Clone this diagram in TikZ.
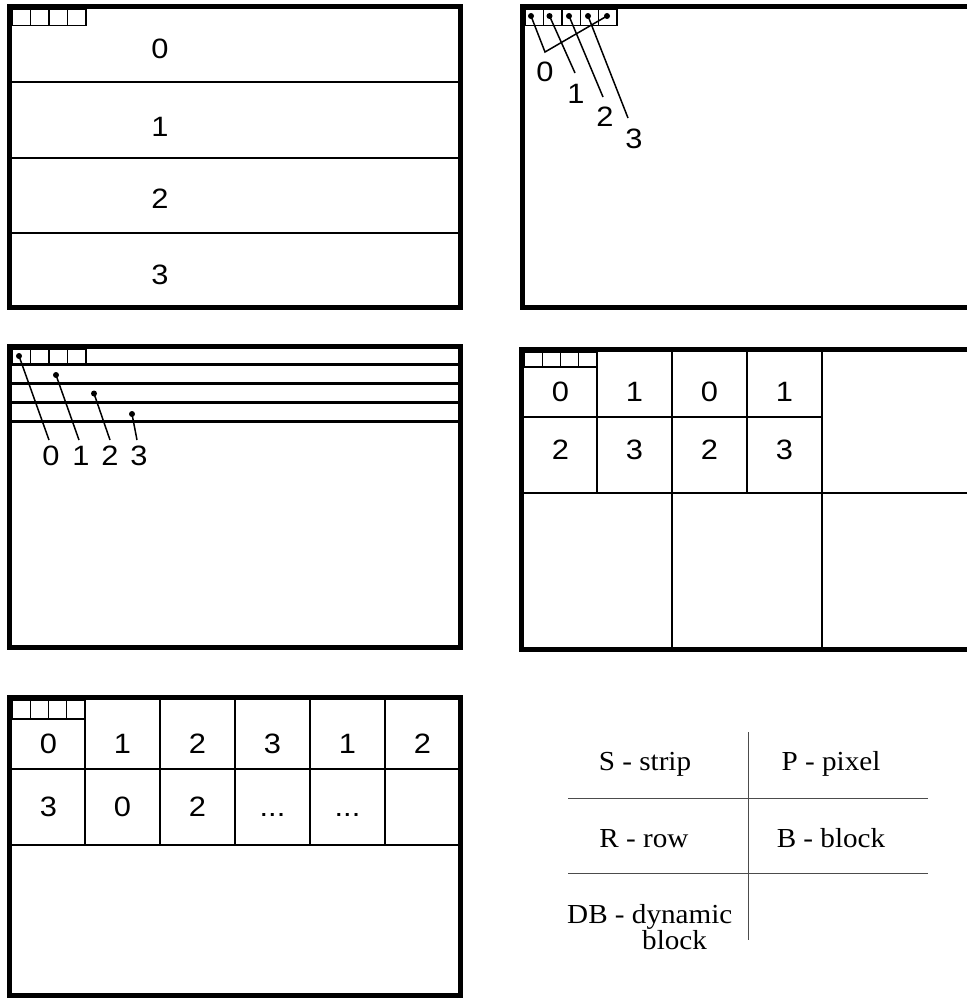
\documentclass[tikz,border=0pt]{standalone}
\usepackage{fontspec}
\setmainfont{Liberation Serif}
\newfontfamily\digitfont[FakeStretch=1.1]{Liberation Sans}
\newfontfamily\legfont[FakeStretch=1.06]{Liberation Serif}
\begin{document}
\begin{tikzpicture}[x=1pt,y=-1pt,
  frame/.style={line width=5pt},
  divline/.style={line width=2.2pt},
  hair/.style={line width=1.4pt},
  num/.style={font=\digitfont\fontsize{28}{30}\selectfont, inner sep=0pt},
  leg/.style={font=\legfont\fontsize{27.5}{28}\selectfont, inner sep=0pt},
  legline/.style={line width=1pt, draw=black!70},
  pdot/.style={circle, fill=black, inner sep=0pt, minimum size=6pt},
  lead/.style={line width=1.5pt}
]
\useasboundingbox (0,0) rectangle (967,998);

% ---------- Panel 1 (top-left): strips ----------
\foreach \i in {0,...,3} \draw[hair] ({12+18.5*\i},9) rectangle ++(18.5,16.5);
\draw[divline] (12,82) -- (458,82);
\draw[divline] (12,158) -- (458,158);
\draw[divline] (12,233) -- (458,233);
\draw[frame] (9.5,6.5) rectangle (460.5,307.5);
\node[num] (s0) at (160,49) {0};
\node[num] (s1) at (160,127) {1};
\node[num] (s2) at (160,199) {2};
\node[num] (s3) at (160,275) {3};

% ---------- Panel 2 (top-right): pixels ----------
\foreach \i in {0,...,4} \draw[hair] ({525+18.4*\i},9) rectangle ++(18.4,16.5);
\draw[frame] (967,6.5) -- (522.5,6.5) -- (522.5,307.5) -- (967,307.5);
\node[pdot] (p1) at (531,16) {};
\node[pdot] (p2) at (549.5,16) {};
\node[pdot] (p3) at (569,16) {};
\node[pdot] (p4) at (588,16) {};
\node[pdot] (p5) at (607,16) {};
\coordinate (pv) at (545,52);
\coordinate (pe1) at (575,73);
\coordinate (pe2) at (603,97);
\coordinate (pe3) at (628,118);
\draw[lead] (p1.center) -- (pv) -- (p5.center);
\draw[lead] (p2.center) -- (pe1);
\draw[lead] (p3.center) -- (pe2);
\draw[lead] (p4.center) -- (pe3);
\node[num] (pl0) at (545,72) {0};
\node[num] (pl1) at (576,94) {1};
\node[num] (pl2) at (605,117) {2};
\node[num] (pl3) at (634,139) {3};

% ---------- Panel 3 (middle-left): rows ----------
\foreach \i in {0,...,3} \draw[hair] ({12+18.5*\i},349) rectangle ++(18.5,15.5);
\foreach \y in {364.5,383.5,402.5,421.5} \draw[divline] (12,\y) -- (458,\y);
\draw[frame] (9.5,346.5) rectangle (460.5,647.5);
\node[pdot] (r0) at (19,356) {};
\node[pdot] (r1) at (56,375) {};
\node[pdot] (r2) at (94,393.5) {};
\node[pdot] (r3) at (132,414) {};
\coordinate (re0) at (49,440);
\coordinate (re1) at (79,440);
\coordinate (re2) at (110,440);
\coordinate (re3) at (137,440);
\draw[lead] (r0.center) -- (re0);
\draw[lead] (r1.center) -- (re1);
\draw[lead] (r2.center) -- (re2);
\draw[lead] (r3.center) -- (re3);
\node[num] (rl0) at (51,456) {0};
\node[num] (rl1) at (81,456) {1};
\node[num] (rl2) at (110,456) {2};
\node[num] (rl3) at (139,456) {3};

% ---------- Panel 4 (middle-right): blocks ----------
\foreach \i in {0,...,3} \draw[hair] ({524+18.25*\i},352) rectangle ++(18.25,15);
\draw[divline] (597,352) -- (597,493);
\draw[divline] (672,352) -- (672,647);
\draw[divline] (747,352) -- (747,493);
\draw[divline] (822,352) -- (822,647);
\draw[divline] (524,417) -- (822,417);
\draw[divline] (524,493) -- (967,493);
\draw[frame] (967,349.5) -- (521.5,349.5) -- (521.5,649.5) -- (967,649.5);
\node[num] (b00) at (560.5,392) {0};
\node[num] (b01) at (634.5,392) {1};
\node[num] (b02) at (709.5,392) {0};
\node[num] (b03) at (784.5,392) {1};
\node[num] (b10) at (560.5,450) {2};
\node[num] (b11) at (634.5,450) {3};
\node[num] (b12) at (709.5,450) {2};
\node[num] (b13) at (784.5,450) {3};

% ---------- Panel 5 (bottom-left): dynamic blocks ----------
\foreach \i in {0,...,3} \draw[hair] ({12+18.25*\i},700) rectangle ++(18.25,19);
\foreach \x in {85,160,235,310,385} \draw[divline] (\x,700) -- (\x,845);
\draw[divline] (12,769) -- (458,769);
\draw[divline] (12,845) -- (458,845);
\draw[frame] (9.5,697.5) rectangle (460.5,995.5);
\node[num] (d00) at (48.5,744) {0};
\node[num] (d01) at (122.5,744) {1};
\node[num] (d02) at (197.5,744) {2};
\node[num] (d03) at (272.5,744) {3};
\node[num] (d04) at (347.5,744) {1};
\node[num] (d05) at (422.5,744) {2};
\node[num] (d10) at (48.5,807) {3};
\node[num] (d11) at (122.5,807) {0};
\node[num] (d12) at (197.5,807) {2};
\node[num, anchor=base] (d13) at (272.5,816.5) {...};
\node[num, anchor=base] (d14) at (347.5,816.5) {...};

% ---------- Legend ----------
\draw[legline] (748,732) -- (748,940);
\draw[legline] (568,798) -- (928,798);
\draw[legline] (568,873) -- (928,873);
\node[leg, anchor=base] (lS) at (645,770) {S - strip};
\node[leg, anchor=base] (lP) at (831,770) {P - pixel};
\node[leg, anchor=base] (lR) at (644,847) {R - row};
\node[leg, anchor=base] (lB) at (831,847) {B - block};
\node[leg, anchor=base west] (lDB) at (567,923) {DB - dynamic};
\node[leg, anchor=base west] (lDB2) at (642,949) {block};
\end{tikzpicture}
\end{document}
